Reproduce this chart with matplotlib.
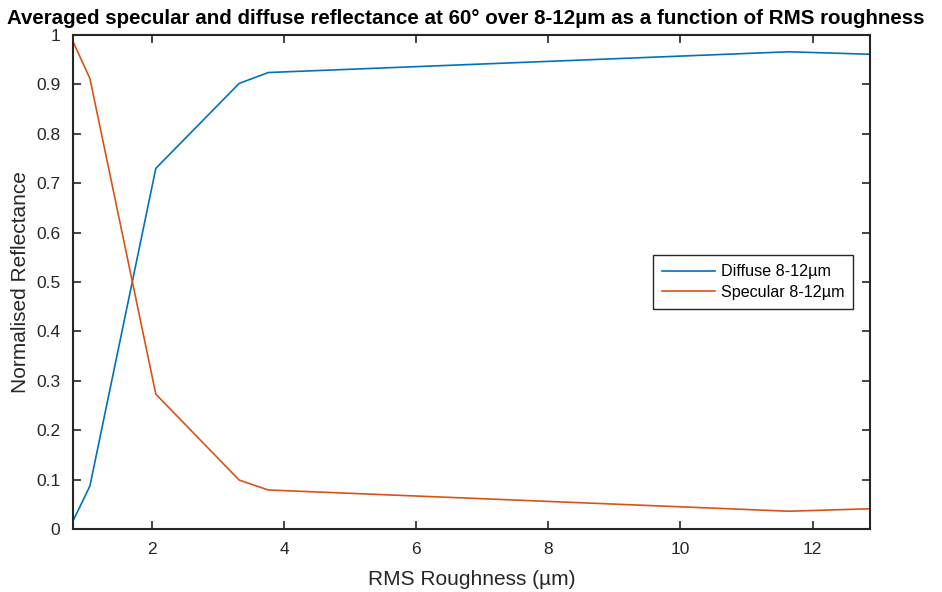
import matplotlib
matplotlib.use("Agg")
import matplotlib.pyplot as plt

plt.rcParams['font.family'] = ['Liberation Sans', 'DejaVu Sans']

roughness = [0.80, 1.06, 2.058, 3.32, 3.76, 11.64, 12.87]
diffuse = [0.015, 0.087, 0.730, 0.902, 0.924, 0.966, 0.961]
specular = [0.988, 0.912, 0.273, 0.099, 0.079, 0.036, 0.041]

xticks = [2, 4, 6, 8, 10, 12]
yticks = [0, 0.1, 0.2, 0.3, 0.4, 0.5, 0.6, 0.7, 0.8, 0.9, 1]
ytick_labels = ['0', '0.1', '0.2', '0.3', '0.4', '0.5', '0.6', '0.7', '0.8', '0.9', '1']

fig = plt.figure(figsize=(9.42, 5.92), dpi=100)
ax = fig.add_axes([0.0772, 0.1064, 0.9236 - 0.0772, 0.9409 - 0.1064])

ax.plot(roughness, diffuse, color='#0072BD', lw=1.2, label='Diffuse 8-12µm')
ax.plot(roughness, specular, color='#D95319', lw=1.2, label='Specular 8-12µm')

ax.set_xlim(0.80, 12.87)
ax.set_ylim(0, 1)
ax.set_xticks(xticks)
ax.set_yticks(yticks)
ax.set_yticklabels(ytick_labels)
ax.tick_params(direction='in', top=True, right=True, length=6, width=1.2,
               labelsize=12.5, colors='#262626', pad=9)
for s in ax.spines.values():
    s.set_linewidth(1.5)
    s.set_color('#262626')

ax.set_xlabel('RMS Roughness (µm)', fontsize=15, color='#262626', labelpad=10)
ax.set_ylabel('Normalised Reflectance', fontsize=15, color='#262626', labelpad=4)
ax.set_title('Averaged specular and diffuse reflectance at 60° over 8-12µm as a function of RMS roughness',
             fontsize=14.8, fontweight='bold', pad=8, x=0.493)

leg = ax.legend(loc='center left', bbox_to_anchor=(0.7175, 0.5), fontsize=11.6,
                fancybox=False, edgecolor='#262626', framealpha=1,
                handlelength=3.3, handletextpad=0.35, borderpad=0.55, labelspacing=0.35)
leg.get_frame().set_linewidth(1.0)

fig.savefig('out.png', dpi=100)
